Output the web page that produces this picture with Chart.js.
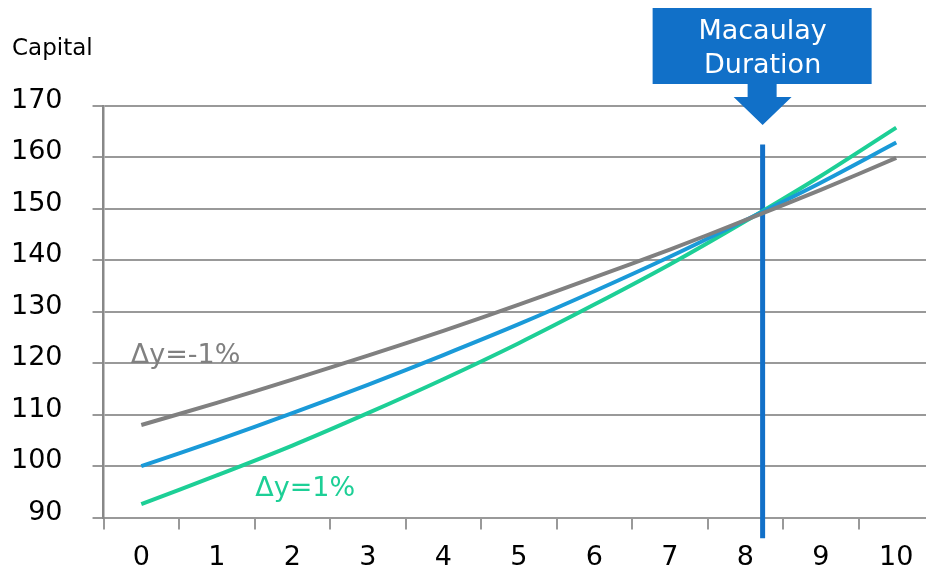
<!DOCTYPE html>
<html>
<head>
<meta charset="utf-8">
<script src="https://cdn.jsdelivr.net/npm/chart.js@4/dist/chart.umd.min.js"></script>
<style>
  html, body { margin: 0; padding: 0; background: #fff; overflow: hidden; }
  #wrap { width: 940px; height: 572px; }
</style>
</head>
<body>
<div id="wrap"><canvas id="chart" width="940" height="572"></canvas></div>
<script>
// years
const years = ['0', '1', '2', '3', '4', '5', '6', '7', '8', '9', '10'];
// capital at yield shift -1%, base, +1%
const capDown = [108, 112.3, 116.8, 121.5, 126.3, 131.4, 136.7, 142.1, 147.8, 153.7, 159.9];
const capBase = [100, 105, 110.3, 115.8, 121.6, 127.6, 134, 140.7, 147.8, 155.1, 162.9];
const capUp = [92.6, 98.2, 104, 110.3, 116.9, 123.9, 131.4, 139.2, 147.6, 156.4, 165.8];
const yTicks = [90, 100, 110, 120, 130, 140, 150, 160, 170];
const duration = 8.23;
const durationLine = [162.5, 86];

const FONT = 'DejaVu Sans, Verdana, sans-serif';

// draws the Capital label, the duration callout and the series notes
const notes = {
    id: 'notes',
    afterDraw(chart) {
        const ctx = chart.ctx;
        const xs = chart.scales.x2;
        const ys = chart.scales.y;
        ctx.save();

        ctx.fillStyle = '#000';
        ctx.font = '23px ' + FONT;
        ctx.textAlign = 'left';
        ctx.textBaseline = 'middle';
        ctx.fillText('Capital', 12, 49);

        // callout box with arrow
        const cx = xs.getPixelForValue(duration);
        ctx.fillStyle = '#1170c8';
        ctx.fillRect(cx - 110, 8, 219, 76);
        ctx.beginPath();
        ctx.moveTo(cx - 15, 83);
        ctx.lineTo(cx + 14, 83);
        ctx.lineTo(cx + 14, 97);
        ctx.lineTo(cx + 29, 97);
        ctx.lineTo(cx, 125);
        ctx.lineTo(cx - 29, 97);
        ctx.lineTo(cx - 15, 97);
        ctx.closePath();
        ctx.fill();
        ctx.fillStyle = '#fff';
        ctx.font = '27px ' + FONT;
        ctx.textAlign = 'center';
        ctx.fillText('Macaulay', cx, 32);
        ctx.fillText('Duration', cx, 66);

        ctx.font = '27px ' + FONT;
        ctx.textAlign = 'left';
        ctx.fillStyle = '#808080';
        ctx.fillText('\u0394y=-1%', xs.getPixelForValue(-0.14), ys.getPixelForValue(121.5));
        ctx.fillStyle = '#1dcf96';
        ctx.fillText('\u0394y=1%', xs.getPixelForValue(1.51), ys.getPixelForValue(95.6));
        ctx.restore();
    }
};

new Chart(document.getElementById('chart'), {
    type: 'line',
    data: {
        labels: years,
        datasets: [
            { label: 'down', data: capDown, borderColor: '#808080', borderWidth: 4, pointRadius: 0, tension: 0.3 },
            { label: 'base', data: capBase, borderColor: '#1a9ad8', borderWidth: 4, pointRadius: 0, tension: 0.3 },
            { label: 'up', data: capUp, borderColor: '#1dcf96', borderWidth: 4, pointRadius: 0, tension: 0.3 },
            {
                label: 'duration',
                data: durationLine.map(v => ({ x: duration, y: v })),
                xAxisID: 'x2',
                borderColor: '#1270c8',
                borderWidth: 5,
                pointRadius: 0,
                clip: false
            }
        ]
    },
    options: {
        responsive: false,
        animation: false,
        layout: { padding: { top: 106, left: -19, right: 6, bottom: -14 } },
        plugins: {
            legend: { display: false },
            tooltip: { enabled: false }
        },
        scales: {
            x: {
                type: 'category',
                offset: true,
                grid: { offset: true, drawOnChartArea: false, tickLength: 12, color: '#999', lineWidth: 2 },
                border: { color: '#999', width: 2 },
                ticks: { color: '#000', font: { family: FONT, size: 27 }, padding: 12, maxRotation: 0 }
            },
            x2: {
                type: 'linear',
                display: false,
                min: -0.5,
                max: 10.5
            },
            y: {
                min: 90,
                max: 170,
                afterBuildTicks: s => { s.ticks = yTicks.map(v => ({ value: v })); },
                grid: { color: '#999', lineWidth: 2, tickLength: 11 },
                border: { color: '#888', width: 2.5 },
                ticks: { color: '#000', font: { family: FONT, size: 27 }, padding: 30, labelOffset: -5 }
            }
        }
    },
    plugins: [notes]
});
</script>
</body>
</html>
